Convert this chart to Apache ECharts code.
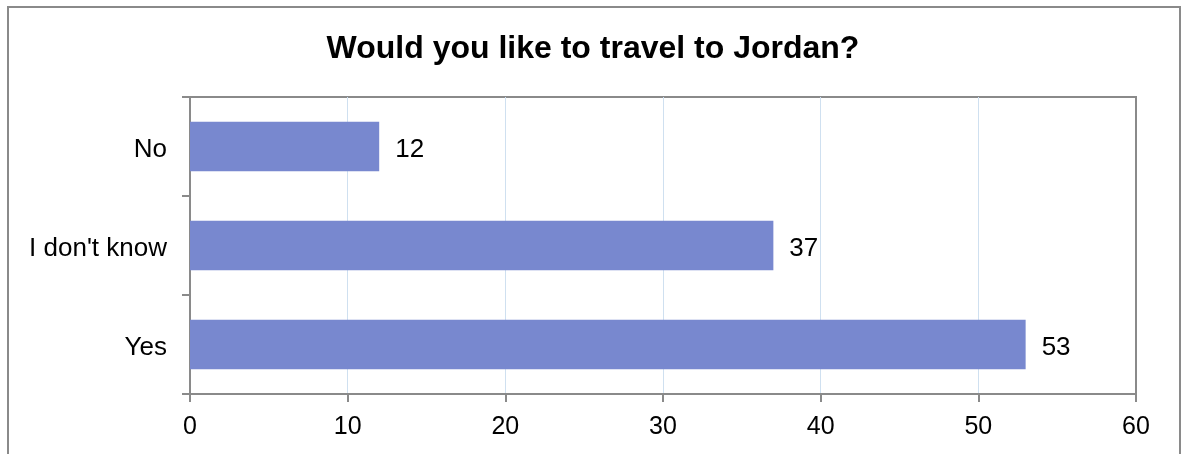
<!DOCTYPE html>
<html>
<head>
<meta charset="utf-8">
<script src="https://cdn.jsdelivr.net/npm/echarts@6/dist/echarts.min.js"></script>
<style>
  html, body { margin: 0; padding: 0; background: #fff; }
  #chart { width: 1186px; height: 454px; }
</style>
</head>
<body>
<div id="chart"></div>
<script>
// Survey answers, listed bottom to top on the category axis
const categories = ['Yes', "I don't know", 'No'];
const responses = [53, 37, 12];
const axisMin = 0;
const axisMax = 60;
const axisStep = 10;

const chart = echarts.init(document.getElementById('chart'));
const font = 'Arial, "Liberation Sans", sans-serif';
const lineGrey = '#8a8a8a';

chart.setOption({
  backgroundColor: '#fff',
  animation: false,
  title: {
    text: 'Would you like to travel to Jordan?',
    left: 'center',
    top: 28,
    textStyle: { fontFamily: font, fontSize: 32, fontWeight: 'bold', color: '#000' }
  },
  graphic: [{
    type: 'rect',
    silent: true,
    shape: { x: 8, y: 7, width: 1172, height: 470 },
    style: { fill: 'none', stroke: lineGrey, lineWidth: 2 }
  }],
  grid: {
    left: 190, right: 50, top: 97, bottom: 60,
    show: true, borderColor: lineGrey, borderWidth: 2, backgroundColor: 'transparent'
  },
  xAxis: {
    type: 'value',
    min: axisMin, max: axisMax, interval: axisStep,
    axisLine: { show: true, lineStyle: { color: lineGrey, width: 2 } },
    axisTick: { show: true, length: 8, lineStyle: { color: lineGrey, width: 2 } },
    axisLabel: { fontFamily: font, fontSize: 25, color: '#000', margin: 21 },
    splitLine: {
      show: true, showMinLine: false, showMaxLine: false,
      lineStyle: { color: '#cfe0f0', width: 1 }
    }
  },
  yAxis: {
    type: 'category',
    data: categories,
    axisLine: { show: true, lineStyle: { color: lineGrey, width: 2 } },
    axisTick: { show: true, length: 8, alignWithLabel: false, lineStyle: { color: lineGrey, width: 2 } },
    axisLabel: {
      margin: 23,
      formatter: '{t|{value}}',
      rich: { t: { fontFamily: font, fontSize: 26, color: '#000', padding: [6, 0, 0, 0] } }
    },
    splitLine: { show: false }
  },
  series: [{
    type: 'bar',
    data: responses,
    barCategoryGap: '50%',
    itemStyle: { color: '#7888cf' },
    label: {
      show: true, position: 'right', distance: 16, offset: [0, 3],
      fontFamily: font, fontSize: 26, color: '#000'
    }
  }]
});
</script>
</body>
</html>
